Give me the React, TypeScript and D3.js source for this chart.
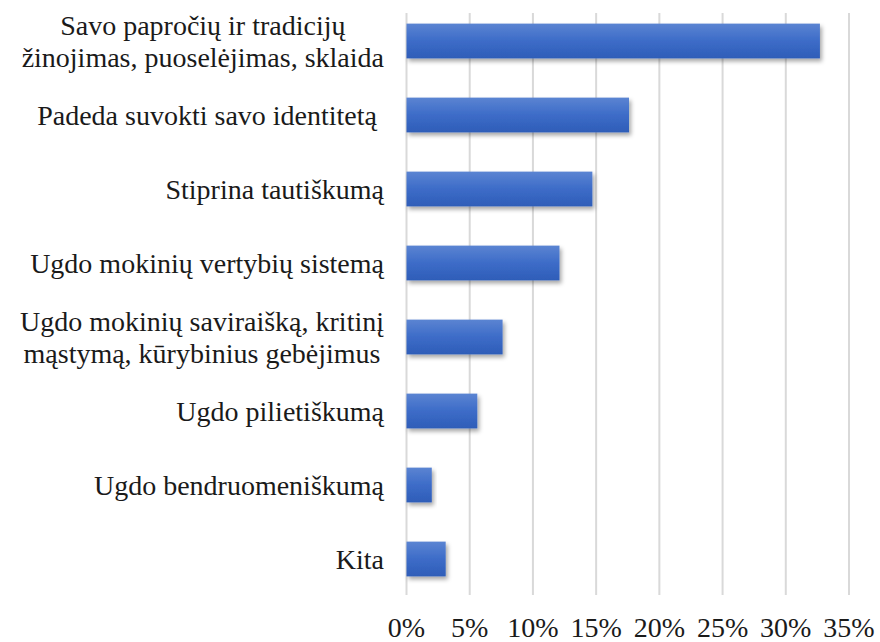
import React from "react";
import * as d3 from "d3";

const categories: string[][] = [
  ["Savo papročių ir tradicijų", "žinojimas, puoselėjimas, sklaida"],
  ["Padeda suvokti savo identitetą "],
  ["Stiprina tautiškumą"],
  ["Ugdo mokinių vertybių sistemą"],
  ["Ugdo mokinių saviraišką, kritinį", "mąstymą, kūrybinius gebėjimus"],
  ["Ugdo pilietiškumą"],
  ["Ugdo bendruomeniškumą"],
  ["Kita"],
];
const values: number[] = [32.7, 17.6, 14.7, 12.1, 7.6, 5.6, 2.0, 3.1];
const ticks: number[] = [0, 5, 10, 15, 20, 25, 30, 35];

const W = 880;
const H = 642;
const FONT = "Liberation Serif";
const FS = 28;

function measure(s: string): number {
  const c = document.createElement("canvas").getContext("2d");
  if (!c) return s.length * FS * 0.45;
  c.font = `${FS}px "${FONT}"`;
  return c.measureText(s).width;
}

export default function App() {
  const x = d3.scaleLinear().domain([0, 35]).range([406.5, 849]);
  const y = d3
    .scaleBand<number>()
    .domain(d3.range(categories.length))
    .range([4, 596])
    .paddingInner(0.53)
    .paddingOuter(0.265);
  const right = 384;
  const lh = 32;

  return (
    <svg
      width={W}
      height={H}
      style={{ position: "absolute", left: 0, top: 0, background: "#fff" }}
    >
      <defs>
        <linearGradient id="barGrad" x1="0" y1="0" x2="0" y2="1">
          <stop offset="0%" stopColor="#5b84d2" />
          <stop offset="50%" stopColor="#3d6cc8" />
          <stop offset="100%" stopColor="#2e5db8" />
        </linearGradient>
        <filter id="shadow" x="-10%" y="-30%" width="130%" height="180%">
          <feDropShadow dx="2" dy="3" stdDeviation="2" floodColor="#000" floodOpacity="0.35" />
        </filter>
      </defs>
      <g>
        {ticks.map((t) => (
          <line key={t} x1={x(t)} x2={x(t)} y1={13} y2={595} stroke="#d9d9d9" strokeWidth={2} />
        ))}
      </g>
      <g>
        {values.map((v, i) => (
          <rect
            key={i}
            x={x(0)}
            y={y(i)}
            width={x(v) - x(0)}
            height={y.bandwidth()}
            fill="url(#barGrad)"
            filter="url(#shadow)"
          />
        ))}
      </g>
      <g fontFamily={FONT} fontSize={FS} fill="#1a1a1a">
        {categories.map((lines, i) => {
          const cy = (y(i) as number) + y.bandwidth() / 2;
          const maxW = Math.max(...lines.map(measure));
          const cx = right - maxW / 2;
          return lines.map((ln, j) => (
            <text
              key={`${i}-${j}`}
              x={cx}
              y={cy + (j - (lines.length - 1) / 2) * lh}
              dy="0.35em"
              textAnchor="middle"
              style={{ whiteSpace: "pre" }}
            >
              {ln}
            </text>
          ));
        })}
        {ticks.map((t) => (
          <text key={`t${t}`} x={x(t)} y={637} textAnchor="middle">
            {`${t}%`}
          </text>
        ))}
      </g>
    </svg>
  );
}
